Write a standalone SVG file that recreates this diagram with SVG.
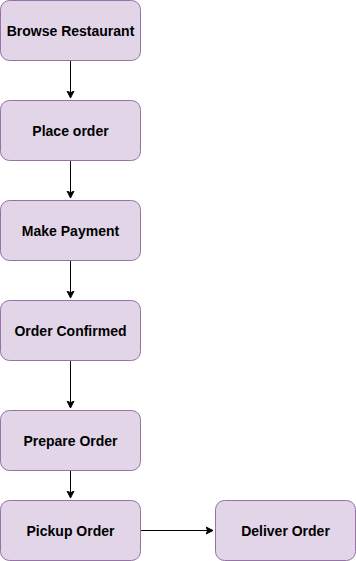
<svg xmlns="http://www.w3.org/2000/svg" width="356" height="561" viewBox="0 0 356 561">
  <style>
    .node rect { fill: #e1d5e7; stroke: #9673a6; stroke-width: 1; }
    .node text { font-family: "Liberation Sans", Arial, Helvetica, sans-serif; font-size: 14px; font-weight: bold; fill: #000000; text-anchor: middle; dominant-baseline: central; }
    .edge { fill: none; stroke: #000000; stroke-width: 1; }
  </style>
  <defs>
    <marker id="arrow" markerWidth="10" markerHeight="10" refX="7" refY="4" orient="auto" markerUnits="userSpaceOnUse" viewBox="0 0 10 8">
      <path d="M0,0.5 L7,4 L0,7.5 L1.75,4 Z" fill="#000000" stroke="#000000" stroke-width="1"/>
    </marker>
  </defs>
  <rect width="356" height="561" fill="#ffffff"/>
  <g id="connectors">
    <path class="edge" d="M70.5,60.5 L70.5,98" marker-end="url(#arrow)"/>
    <path class="edge" d="M70.5,160.5 L70.5,198" marker-end="url(#arrow)"/>
    <path class="edge" d="M70.5,260.5 L70.5,298" marker-end="url(#arrow)"/>
    <path class="edge" d="M70.5,360.5 L70.5,408" marker-end="url(#arrow)"/>
    <path class="edge" d="M70.5,470.5 L70.5,498" marker-end="url(#arrow)"/>
    <path class="edge" d="M140.5,530.5 L213,530.5" marker-end="url(#arrow)"/>
  </g>
  <g id="browse-restaurant" class="node">
    <rect x="0.5" y="0.5" width="140" height="60" rx="9" ry="9"/>
    <text x="70.5" y="31">Browse Restaurant</text>
  </g>
  <g id="place-order" class="node">
    <rect x="0.5" y="100.5" width="140" height="60" rx="9" ry="9"/>
    <text x="70.5" y="131">Place order</text>
  </g>
  <g id="make-payment" class="node">
    <rect x="0.5" y="200.5" width="140" height="60" rx="9" ry="9"/>
    <text x="70.5" y="231">Make Payment</text>
  </g>
  <g id="order-confirmed" class="node">
    <rect x="0.5" y="300.5" width="140" height="60" rx="9" ry="9"/>
    <text x="70.5" y="331">Order Confirmed</text>
  </g>
  <g id="prepare-order" class="node">
    <rect x="0.5" y="410.5" width="140" height="60" rx="9" ry="9"/>
    <text x="70.5" y="441">Prepare Order</text>
  </g>
  <g id="pickup-order" class="node">
    <rect x="0.5" y="500.5" width="140" height="60" rx="9" ry="9"/>
    <text x="70.5" y="531">Pickup Order</text>
  </g>
  <g id="deliver-order" class="node">
    <rect x="215.5" y="500.5" width="140" height="60" rx="9" ry="9"/>
    <text x="285.5" y="531">Deliver Order</text>
  </g>
</svg>
